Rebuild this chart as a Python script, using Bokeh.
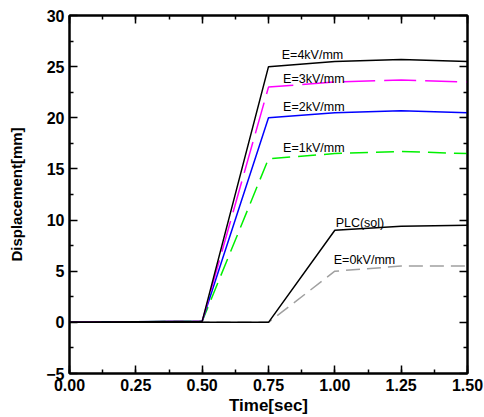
from bokeh.plotting import figure
from bokeh.models import (LinearAxis, SingleIntervalTicker, FixedTicker, NumeralTickFormatter,
                          Range1d, ColumnDataSource, CustomJSTickFormatter)
from bokeh.core.properties import value
from bokeh.embed import file_html
from bokeh.resources import INLINE

# ---- data ----
time = [0.0, 0.25, 0.5, 0.75, 1.0, 1.25, 1.5]
e4 = [0.0, 0.05, 0.1, 25.0, 25.5, 25.7, 25.5]
e3 = [0.0, 0.05, 0.1, 23.0, 23.5, 23.7, 23.5]
e2 = [0.0, 0.05, 0.1, 20.0, 20.5, 20.7, 20.5]
e1 = [0.0, 0.05, 0.1, 16.0, 16.5, 16.7, 16.5]
plc = [0.0, 0.0, 0.0, 0.0, 9.0, 9.4, 9.5]
e0 = [0.0, 0.0, 0.0, 0.0, 5.0, 5.5, 5.5]

label_text = ["E=4kV/mm", "E=3kV/mm", "E=2kV/mm", "E=1kV/mm", "PLC(sol)", "E=0kV/mm"]
label_x = [0.80, 0.805, 0.805, 0.805, 1.003, 0.996]
label_y = [26.1, 23.8, 21.05, 17.07, 9.7, 6.12]

y_ticks = [-5, 0, 5, 10, 15, 20, 25, 30]
y_minor = [-2.5, 2.5, 7.5, 12.5, 17.5, 22.5, 27.5]

FONT = "Liberation Sans"

p = figure(width=484, height=417, output_backend="svg", toolbar_location=None,
           x_range=Range1d(0, 1.5), y_range=Range1d(-5, 30),
           min_border_left=69, min_border_right=17, min_border_top=15, min_border_bottom=44)
p.grid.visible = False
p.outline_line_color = "black"
p.outline_line_width = 2

# series
p.line(time, e0, line_color="#A0A0A0", line_width=1.5, line_dash="14 7")
p.line(time, e1, line_color="#00F000", line_width=1.5, line_dash="18 8")
p.line(time, e2, line_color="#0000FF", line_width=1.5)
p.line(time, e3, line_color="#FF00FF", line_width=1.5, line_dash="32 9")
p.line(time, e4, line_color="black", line_width=1.5)
p.line(time, plc, line_color="black", line_width=1.5)

src = ColumnDataSource(dict(x=label_x, y=label_y, t=label_text))
p.text(x="x", y="y", text="t", source=src, text_font=value(FONT), text_font_size="12.5px",
       text_color="black", text_align="left", text_baseline="alphabetic")

def style(ax, show_labels=True):
    ax.axis_line_width = 2
    ax.major_tick_in = 8
    ax.major_tick_out = 0
    ax.minor_tick_in = 4
    ax.minor_tick_out = 0
    ax.major_tick_line_width = 1.5
    ax.minor_tick_line_width = 1.5
    if show_labels:
        ax.major_label_text_font = FONT
        ax.major_label_text_font_style = "bold"
        ax.major_label_text_font_size = "16px"
        ax.major_label_text_color = "black"
        ax.axis_label_text_font = FONT
        ax.axis_label_text_font_style = "bold"
        ax.axis_label_text_color = "black"
    else:
        ax.formatter = CustomJSTickFormatter(code="return '';")
        ax.major_label_standoff = 0

xticker = SingleIntervalTicker(interval=0.25, num_minor_ticks=2)
yticker = FixedTicker(ticks=y_ticks, minor_ticks=y_minor)

xa = p.xaxis[0]
xa.ticker = xticker
xa.formatter = NumeralTickFormatter(format="0.00")
xa.axis_label = "Time[sec]"
style(xa)
xa.axis_label_text_font_size = "17px"
xa.major_label_standoff = 5
xa.axis_label_standoff = 2

ya = p.yaxis[0]
ya.ticker = yticker
ya.axis_label = "Displacement[mm]"
style(ya)
ya.axis_label_text_font_size = "15px"
ya.major_label_standoff = 5
ya.axis_label_standoff = 18

top = LinearAxis(ticker=SingleIntervalTicker(interval=0.25, num_minor_ticks=2))
style(top, False)
p.add_layout(top, "above")
right = LinearAxis(ticker=FixedTicker(ticks=y_ticks, minor_ticks=y_minor))
style(right, False)
p.add_layout(right, "right")

open("out.html", "w").write(file_html(p, INLINE))
